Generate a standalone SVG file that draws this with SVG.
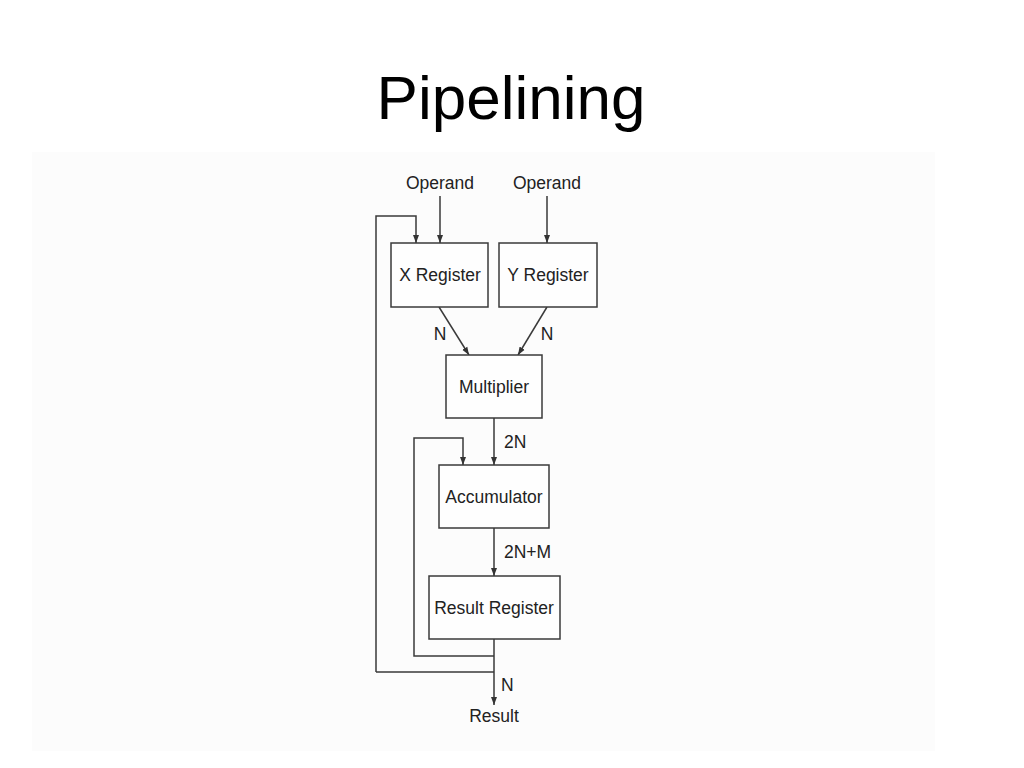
<svg xmlns="http://www.w3.org/2000/svg" width="1024" height="768" viewBox="0 0 1024 768">
<defs>
<marker id="arr" markerWidth="8" markerHeight="8" viewBox="0 0 8 8" refX="8" refY="4" orient="auto" markerUnits="userSpaceOnUse">
<path d="M0,1 L8,4 L0,7 Z" fill="#333"/>
</marker>
<style>
.box{fill:#fefefe;stroke:#3a3a3a;stroke-width:1.5}
.wire{fill:none;stroke:#3a3a3a;stroke-width:1.5}
.lbl{font-family:"Liberation Sans",Arial,sans-serif;font-size:17.5px;fill:#222;text-anchor:middle}
.lbl-l{font-family:"Liberation Sans",Arial,sans-serif;font-size:17.5px;fill:#222}
.title{font-family:"Liberation Sans",Arial,sans-serif;font-size:62px;fill:#000;text-anchor:middle}
</style>
</defs>
<rect width="1024" height="768" fill="#fff"/>
<rect x="32" y="152" width="903" height="599" fill="#fcfcfc"/>
<text class="title" x="511" y="119">Pipelining</text>

<g id="connectors">
<line class="wire" x1="440" y1="196" x2="440" y2="243" marker-end="url(#arr)"/>
<line class="wire" x1="547" y1="196" x2="547" y2="243" marker-end="url(#arr)"/>
<polyline class="wire" points="376,672 376,216 416,216 416,243" marker-end="url(#arr)"/>
<line class="wire" x1="439" y1="307" x2="469" y2="355" marker-end="url(#arr)"/>
<line class="wire" x1="547" y1="307" x2="518" y2="355" marker-end="url(#arr)"/>
<line class="wire" x1="494" y1="418" x2="494" y2="465" marker-end="url(#arr)"/>
<polyline class="wire" points="494,656 414,656 414,438 463,438 463,465" marker-end="url(#arr)"/>
<line class="wire" x1="494" y1="528" x2="494" y2="576" marker-end="url(#arr)"/>
<line class="wire" x1="376" y1="672" x2="494" y2="672"/>
<line class="wire" x1="494" y1="639" x2="494" y2="705" marker-end="url(#arr)"/>
<text class="lbl" x="440" y="340">N</text>
<text class="lbl" x="547" y="340">N</text>
<text class="lbl-l" x="504" y="448">2N</text>
<text class="lbl-l" x="504" y="558">2N+M</text>
<text class="lbl-l" x="501" y="691">N</text>
</g>

<g id="operand-x"><text class="lbl" x="440" y="189">Operand</text></g>
<g id="operand-y"><text class="lbl" x="547" y="189">Operand</text></g>
<g id="x-register">
<rect class="box" x="391" y="243" width="97" height="64"/>
<text class="lbl" x="440" y="281">X Register</text>
</g>
<g id="y-register">
<rect class="box" x="499" y="243" width="98" height="64"/>
<text class="lbl" x="548" y="281">Y Register</text>
</g>
<g id="multiplier">
<rect class="box" x="446" y="355" width="96" height="63"/>
<text class="lbl" x="494" y="393">Multiplier</text>
</g>
<g id="accumulator">
<rect class="box" x="439" y="465" width="110" height="63"/>
<text class="lbl" x="494" y="503">Accumulator</text>
</g>
<g id="result-register">
<rect class="box" x="429" y="576" width="131" height="63"/>
<text class="lbl" x="494" y="614">Result Register</text>
</g>
<g id="result"><text class="lbl" x="494" y="722">Result</text></g>
</svg>
